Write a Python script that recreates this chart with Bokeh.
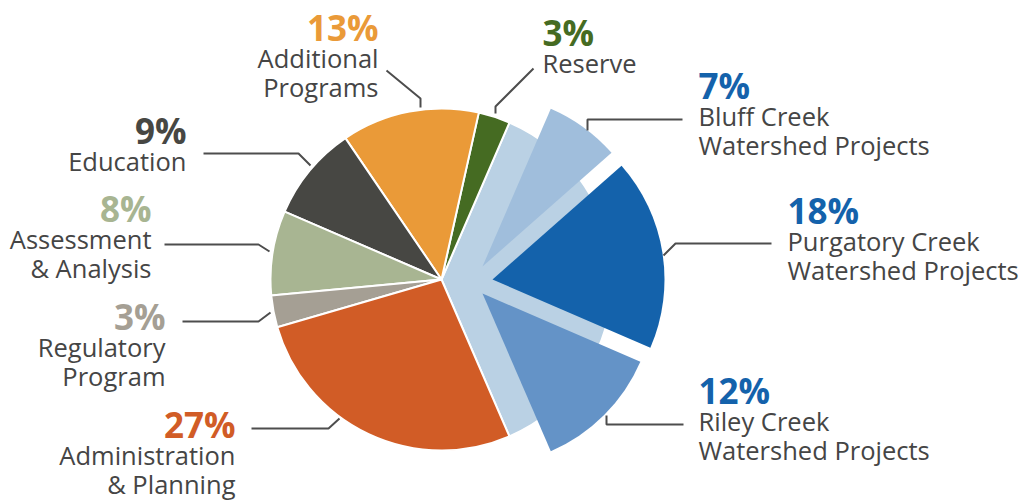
import math
from bokeh.plotting import figure
from bokeh.models import Range1d, ColumnDataSource
from bokeh.core.properties import value
from bokeh.embed import file_html
from bokeh.resources import INLINE

# ---------------- data ----------------
main_categories = ["Reserve", "Additional Programs", "Education",
                   "Assessment & Analysis", "Regulatory Program",
                   "Administration & Planning"]
main_values = [3, 13, 9, 8, 3, 27]
main_colors = ["#456b22", "#ea9a38", "#474743", "#a8b592", "#a59f94", "#d15c26"]
main_label_colors = ["#456b22", "#ea9a38", "#474743", "#a8b592", "#a59f94", "#d15c26"]
main_label_lines = [["Reserve"], ["Additional", "Programs"], ["Education"],
                    ["Assessment", "& Analysis"], ["Regulatory", "Program"],
                    ["Administration", "& Planning"]]

blue_categories = ["Bluff Creek Watershed Projects",
                   "Purgatory Creek Watershed Projects",
                   "Riley Creek Watershed Projects"]
blue_values = [7, 18, 12]
blue_colors = ["#a0bedc", "#1462ab", "#6493c7"]
blue_label_colors = ["#1462ab", "#1462ab", "#1462ab"]
blue_label_lines = [["Bluff Creek", "Watershed Projects"],
                    ["Purgatory Creek", "Watershed Projects"],
                    ["Riley Creek", "Watershed Projects"]]
group_color = "#bad1e4"

# ---------------- layout (screen px, y down) ----------------
W, H = 1036, 502
CX, CY, R = 441, 279, 171
R_BLUE = 172
blue_offsets = [(41, -13), (51, 0), (41, 14)]

main_anchor = [(542, 45, "left"), (378, 40, "right"), (186, 143, "right"),
               (151, 221, "right"), (165, 329, "right"), (235, 437, "right")]
blue_anchor = [(698, 98, "left"), (787, 223, "left"), (698, 403, "left")]

PCT_SHIFT = 13    # renderer places text lower than the requested baseline
LBL_SHIFT = 12

main_leaders = [[(533, 68), (495, 106), (495, 113)],
                [(386, 70), (420, 98), (420, 107)],
                [(203, 153), (298, 153), (310, 165)],
                [(164, 244), (258, 244), (269, 251)],
                [(182, 321), (258, 321), (270, 312)],
                [(251, 428), (328, 428), (339, 418)]]
blue_leaders = [[(682, 119), (587, 119), (587, 130)],
                [(771, 243), (675, 243), (663, 255)],
                [(683, 424), (606, 424), (606, 415)]]

p = figure(width=W, height=H, output_backend="svg", toolbar_location=None,
           x_range=Range1d(0, W), y_range=Range1d(-H, 0),
           min_border=0, outline_line_color=None,
           x_axis_location=None, y_axis_location=None)
p.xgrid.visible = False
p.ygrid.visible = False
p.background_fill_color = "white"
p.border_fill_color = "white"

TWO_PI = 2 * math.pi
blue_total = sum(blue_values)
half = math.pi * blue_total / 100.0

# group background wedge (the blue share, centred to the right)
p.wedge(x=[CX], y=[-CY], radius=R, start_angle=[-half], end_angle=[half],
        fill_color=group_color, line_color="white", line_width=2)

# main slices, counter-clockwise from the top of the group wedge
starts, ends = [], []
a = half
for v in main_values:
    starts.append(a)
    a += v / 100.0 * TWO_PI
    ends.append(a)
src = ColumnDataSource(dict(cat=main_categories, start=starts, end=ends, color=main_colors))
p.wedge(x=CX, y=-CY, radius=R, start_angle="start", end_angle="end",
        fill_color="color", line_color="white", line_width=2, source=src)

# exploded blue slices, clockwise from the top of the group wedge
bs, be, bx, by = [], [], [], []
a = half
for v, (dx, dy) in zip(blue_values, blue_offsets):
    be.append(a)
    a -= v / 100.0 * TWO_PI
    bs.append(a)
    bx.append(CX + dx)
    by.append(-(CY + dy))
bsrc = ColumnDataSource(dict(cat=blue_categories, start=bs, end=be, x=bx, y=by, color=blue_colors))
p.wedge(x="x", y="y", radius=R_BLUE, start_angle="start", end_angle="end",
        fill_color="color", line_color=None, source=bsrc)

# leader lines
leaders = main_leaders + blue_leaders
p.multi_line(xs=[[pt[0] for pt in L] for L in leaders],
             ys=[[-pt[1] for pt in L] for L in leaders],
             line_color="#4d4d4d", line_width=2)

# labels
all_values = main_values + blue_values
all_colors = main_label_colors + blue_label_colors
all_lines = main_label_lines + blue_label_lines
all_anchor = main_anchor + blue_anchor

for align in ("left", "right"):
    px, py, pt, pc = [], [], [], []
    lx, ly, lt = [], [], []
    for v, c, lines, (ax, ay, al) in zip(all_values, all_colors, all_lines, all_anchor):
        if al != align:
            continue
        px.append(ax); py.append(-(ay - PCT_SHIFT)); pt.append(f"{v}%"); pc.append(c)
        for i, line in enumerate(lines):
            lx.append(ax); ly.append(-(ay + 29.5 + 28.5 * i - LBL_SHIFT)); lt.append(line)
    p.text(x=px, y=py, text=pt, text_color=pc, text_align=align,
           text_baseline="alphabetic", text_font=value("Open Sans"),
           text_font_style="bold", text_font_size="35px")
    p.text(x=lx, y=ly, text=lt, text_color="#454545", text_align=align,
           text_baseline="alphabetic", text_font=value("Open Sans"),
           text_font_size="25.5px")

open("out.html", "w").write(file_html(p, INLINE))
